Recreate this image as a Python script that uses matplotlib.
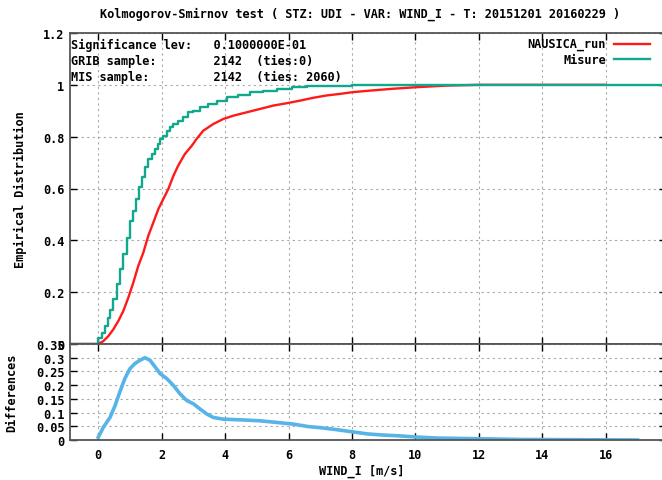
import matplotlib
matplotlib.use("Agg")
import matplotlib.pyplot as plt
from matplotlib.lines import Line2D

# ---------------- data ----------------
title = "Kolmogorov-Smirnov test ( STZ: UDI - VAR: WIND_I - T: 20151201 20160229 )"
info_lines = [
    "Significance lev:   0.1000000E-01",
    "GRIB sample:        2142  (ties:0)",
    "MIS sample:         2142  (ties: 2060)",
]
series_names = ["NAUSICA_run", "Misure"]

# NAUSICA_run empirical CDF
run_x = [-0.9, 0.0, 0.158, 0.316, 0.473, 0.631, 0.789, 0.946, 1.104, 1.262, 1.42,
         1.577, 1.735, 1.893, 2.05, 2.21, 2.37, 2.52, 2.73, 2.95, 3.1, 3.31,
         3.63, 3.94, 4.26, 4.68, 5.1, 5.52, 5.94, 6.36, 6.78, 7.2, 7.62, 8.04,
         8.6, 9.3, 10.05, 10.98, 12.0, 16.0]
run_y = [0.0, 0.0, 0.011, 0.030, 0.056, 0.088, 0.127, 0.178, 0.236, 0.301, 0.352,
         0.417, 0.468, 0.52, 0.559, 0.598, 0.649, 0.688, 0.733, 0.765, 0.791, 0.823,
         0.849, 0.868, 0.881, 0.894, 0.907, 0.920, 0.929, 0.939, 0.950, 0.959, 0.965, 0.972,
         0.978, 0.985, 0.991, 0.997, 1.0, 1.0]

# Misure empirical CDF (stepped)
mis_x = [-0.9, 0.0, 0.105, 0.21, 0.3, 0.37, 0.47, 0.58, 0.68, 0.79, 0.9, 1.0, 1.1,
         1.19, 1.28, 1.37, 1.47, 1.58, 1.68, 1.79, 1.87, 1.95, 2.05, 2.16, 2.26,
         2.37, 2.52, 2.68, 2.84, 3.0, 3.2, 3.47, 3.74, 4.05, 4.4, 4.79, 5.2, 5.63,
         6.1, 6.57, 7.2, 8.0, 8.66, 17.8]
mis_y = [0.0, 0.024, 0.043, 0.069, 0.101, 0.133, 0.172, 0.23, 0.288, 0.346, 0.41,
         0.475, 0.514, 0.559, 0.604, 0.643, 0.682, 0.714, 0.733, 0.752, 0.772, 0.791,
         0.804, 0.823, 0.836, 0.849, 0.862, 0.875, 0.894, 0.9, 0.914, 0.927, 0.939,
         0.952, 0.959, 0.972, 0.978, 0.985, 0.991, 0.994, 0.997, 0.998, 1.0, 1.0]

# Differences
diff_x = [0.0, 0.16, 0.37, 0.53, 0.68, 0.84, 1.0, 1.16, 1.32, 1.47, 1.63, 1.79,
          1.95, 2.16, 2.37, 2.58, 2.79, 3.0, 3.21, 3.42, 3.63, 3.94, 4.58, 5.1,
          5.63, 6.15, 6.62, 7.0, 7.5, 8.0, 8.5, 9.0, 9.5, 10.0, 10.7, 11.8, 13.3, 17.0]
diff_y = [0.01, 0.046, 0.082, 0.125, 0.175, 0.224, 0.26, 0.279, 0.291, 0.30, 0.291,
          0.267, 0.242, 0.224, 0.199, 0.168, 0.144, 0.132, 0.113, 0.095, 0.082, 0.076,
          0.073, 0.070, 0.064, 0.058, 0.049, 0.045, 0.038, 0.03, 0.022, 0.018, 0.015,
          0.011, 0.007, 0.005, 0.002, 0.0]

x_ticks = [0, 2, 4, 6, 8, 10, 12, 14, 16]
top_yticks = [0, 0.2, 0.4, 0.6, 0.8, 1.0, 1.2]
top_ylabels = ["0", "0.2", "0.4", "0.6", "0.8", "1", "1.2"]
bot_yticks = [0, 0.05, 0.1, 0.15, 0.2, 0.25, 0.3, 0.35]
bot_ylabels = ["0", "0.05", "0.1", "0.15", "0.2", "0.25", "0.3", "0.35"]

# ---------------- style ----------------
W, H = 662, 481
FONT = dict(family="DejaVu Sans Mono", weight="bold", size=8.6)
RED = "#ff1a1a"
GREEN = "#12a88e"
BLUE = "#56b4e9"
SPINE = "#555555"
GRID = dict(color="#a8a8a8", linestyle=(0, (2, 3)), linewidth=0.8)
XMIN, XMAX = -0.89, 17.9

def fx(px):
    return px / W

def fy(py):
    return 1 - py / H

fig = plt.figure(figsize=(W / 100, H / 100), dpi=100)

L, R = 70, 666
ax1 = fig.add_axes([fx(L), fy(345), fx(R - L), (345 - 34) / H])
ax2 = fig.add_axes([fx(L), fy(441), fx(R - L), (441 - 345) / H])

for ax in (ax1, ax2):
    ax.set_xlim(XMIN, XMAX)
    ax.set_xticks(x_ticks)
    ax.grid(True, **GRID)
    ax.set_axisbelow(True)
    for s in ax.spines.values():
        s.set_color(SPINE)
        s.set_linewidth(1.3)
    ax.tick_params(direction="in", length=5, width=1, color="black",
                   top=True, right=True, labelsize=FONT["size"])

ax1.set_ylim(0, 1.2)
ax1.set_yticks(top_yticks)
ax1.set_yticklabels(top_ylabels, **FONT)
ax1.tick_params(labelbottom=False)

ax2.set_ylim(0, 0.35)
ax2.set_yticks(bot_yticks)
ax2.set_yticklabels(bot_ylabels, **FONT)
ax2.set_xticklabels([str(t) for t in x_ticks], **FONT)
ax2.tick_params(axis="x", pad=6)
ax2.tick_params(axis="y", pad=4)
ax1.tick_params(axis="y", pad=4)

ax1.plot(run_x, run_y, color=RED, lw=1.7, solid_joinstyle="miter")
ax1.plot(mis_x, mis_y, color=GREEN, lw=1.7, drawstyle="steps-post")
ax2.plot(diff_x, diff_y, color=BLUE, lw=2.6)

# labels
fig.text(fx(360), fy(14), title, ha="center", va="center", **FONT)
fig.text(fx(20), fy(190), "Empirical Distribution", rotation=90,
         ha="center", va="center", **FONT)
fig.text(fx(12), fy(393), "Differences", rotation=90, ha="center", va="center", **FONT)
fig.text(fx(362), fy(471), "WIND_I [m/s]", ha="center", va="center", **FONT)

for i, line in enumerate(info_lines):
    fig.text(fx(71), fy(45 + 16 * i), line, ha="left", va="center", **FONT)

for i, (name, col) in enumerate(zip(series_names, [RED, GREEN])):
    yy = 45 + 15 * i
    fig.text(fx(606), fy(yy), name, ha="right", va="center", **FONT)
    fig.add_artist(Line2D([fx(614), fx(650)], [fy(yy), fy(yy)], color=col, lw=1.7))

fig.savefig("out.png", dpi=100)
